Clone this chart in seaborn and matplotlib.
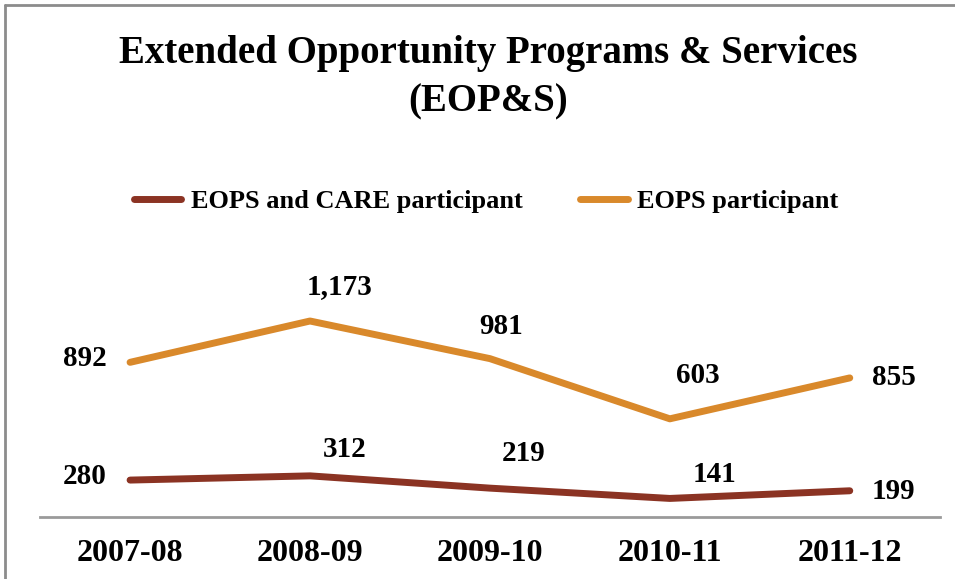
import numpy as np
import pandas as pd
import seaborn as sns
import matplotlib
matplotlib.use("Agg")
from matplotlib import pyplot as plt
from matplotlib.lines import Line2D

# data
years = ["2007-08", "2008-09", "2009-10", "2010-11", "2011-12"]
care = [280, 312, 219, 141, 199]        # EOPS and CARE participant
eops = [892, 1173, 981, 603, 855]       # EOPS participant
series_names = ["EOPS and CARE participant", "EOPS participant"]
colors = ["#8B3323", "#D9892B"]

# label nudges in pixels (dx, dy), as placed in the original
care_off = [(-23, 4), (35, 26), (34, 35), (45, 24), (22, -1)]
eops_off = [(-23, 4), (30, 34), (11, 32), (28, 43), (22, 0)]

sns.set_theme(style="white")
plt.rcParams['font.family'] = ['Liberation Serif', 'DejaVu Serif']
plt.rcParams['font.weight'] = 'bold'
plt.rcParams['text.color'] = 'black'
plt.rcParams['xtick.color'] = 'black'

# stacked line chart (second series sits on top of the first)
stacked = np.array(care) + np.array(eops)
df = pd.DataFrame({
    "pos": list(range(len(years))) * 2,
    "value": list(care) + list(stacked),
    "label": list(care) + list(eops),
    "series": [series_names[0]] * len(years) + [series_names[1]] * len(years),
    "off": care_off + eops_off,
})

fig = plt.figure(figsize=(9.55, 5.79), dpi=100)
ax = fig.add_axes([0.042, 0.107, 0.942, 0.456])

sns.lineplot(data=df, x="pos", y="value", hue="series", palette=colors,
             linewidth=5, ax=ax, legend=False, solid_capstyle="round")

ax.set_xlim(-0.5, len(years) - 0.5)
ax.set_ylim(0, 2000)
ax.set_xticks(range(len(years)))
ax.set_xticklabels(years, fontsize=23, fontweight="bold")
ax.set_yticks([])
ax.set_xlabel("")
ax.set_ylabel("")
ax.tick_params(axis="x", length=0, pad=16)
for s in ["top", "right", "left"]:
    ax.spines[s].set_visible(False)
ax.spines["bottom"].set_color("#9a9a9a")
ax.spines["bottom"].set_linewidth(2)

# data labels: left of first point, right of last, above the others
n = len(years)
px = 0.72  # points per pixel at 100 dpi
for _, r in df.iterrows():
    i = r["pos"]
    dx, dy = r["off"]
    txt = f"{r['label']:,}"
    ha = "right" if i == 0 else ("left" if i == n - 1 else "center")
    ax.annotate(txt, (i, r["value"]), xytext=(dx * px, dy * px), textcoords="offset points",
                ha=ha, va="center", fontsize=21, fontweight="bold")

handles = [Line2D([0], [0], color=c, lw=5, solid_capstyle="round") for c in colors]
fig.legend(handles, series_names, loc="center", bbox_to_anchor=(0.509, 0.652), ncol=2,
           frameon=False, prop={"size": 19, "weight": "bold"}, handlelength=1.8,
           columnspacing=2.2, handletextpad=0.35)

fig.text(0.511, 0.866, "Extended Opportunity Programs & Services\n(EOP&S)",
         ha="center", va="center", fontsize=28, fontweight="bold", linespacing=1.42)

# chart border (top and left edges visible)
fig.add_artist(Line2D([5 / 955, 1.0], [1 - 5 / 579] * 2, color="#8c8c8c", lw=2))
fig.add_artist(Line2D([5 / 955] * 2, [0.0, 1 - 5 / 579], color="#8c8c8c", lw=2))

fig.savefig("out.png", dpi=100)
